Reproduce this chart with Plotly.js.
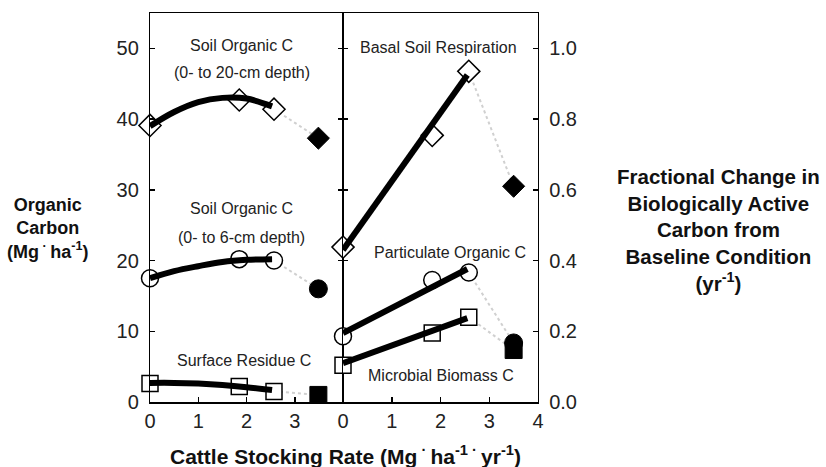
<!DOCTYPE html>
<html><head><meta charset="utf-8">
<script src="https://cdn.plot.ly/plotly-3.0.1.min.js"></script>
<style>body{margin:0;background:#fff}#chart{width:826px;height:467px}</style>
</head><body><div id="chart"></div>
<script>
// ---- data ----
// left panel: organic carbon, Mg ha-1
const leftX = [0, 1.85, 2.57];
const grazedX = [3.49];
const soc20 = [39.1, 42.7, 41.4];
const soc20Grazed = [37.3];
const soc6 = [17.5, 20.2, 20.0];
const soc6Grazed = [16.0];
const residue = [2.6, 2.2, 1.5];
const residueGrazed = [1.0];
// fitted curves, left panel
const leftFitX = [0, 0.5, 1.0, 1.5, 2.0, 2.53];
const soc20Fit = [39.0, 41.0, 42.4, 43.0, 42.9, 41.8];
const soc6Fit = [17.5, 18.5, 19.2, 19.8, 20.1, 20.2];
const residueFit = [2.7, 2.7, 2.6, 2.4, 2.1, 1.7];

// right panel: fractional change, yr-1
const rightX = [0, 1.83, 2.58];
const rightGrazedX = [3.5];
const basal = [0.438, 0.754, 0.935];
const basalGrazed = [0.61];
const poc = [0.186, 0.345, 0.366];
const pocGrazed = [0.167];
const mbc = [0.104, 0.195, 0.240];
const mbcGrazed = [0.147];
// fitted lines, right panel
const rightFitX = [0, 2.55];
const basalFit = [0.43, 0.925];
const pocFit = [0.195, 0.376];
const mbcFit = [0.11, 0.237];

const leftTicks = [0, 1, 2, 3];
const rightTicks = [0, 1, 2, 3, 4];
const leftYTicks = [0, 10, 20, 30, 40, 50];
const rightYTicks = [0, 0.2, 0.4, 0.6, 0.8, 1.0];

// ---- traces ----
const FONT = 'Liberation Sans, Arial, sans-serif';
const traces = [];
function connector(xa, ya, xb, yb, xr, yr) {
  traces.push({x: [xa[xa.length-1], xb[0]], y: [ya[ya.length-1], yb[0]], xaxis: xr, yaxis: yr,
    mode: 'lines', line: {color: '#d0d0d0', width: 2, dash: 'dot'}, hoverinfo: 'skip'});
}
function openMarkers(x, y, sym, size, xr, yr) {
  traces.push({x: x, y: y, xaxis: xr, yaxis: yr, mode: 'markers', cliponaxis: false,
    marker: {symbol: sym, size: size, color: '#fff', line: {color: '#000', width: 1.5}}});
}
function fit(x, y, xr, yr, shape) {
  traces.push({x: x, y: y, xaxis: xr, yaxis: yr, mode: 'lines', cliponaxis: false,
    line: {color: '#000', width: 6, shape: shape, smoothing: 1}});
}
function filled(x, y, sym, size, xr, yr) {
  traces.push({x: x, y: y, xaxis: xr, yaxis: yr, mode: 'markers', cliponaxis: false,
    marker: {symbol: sym, size: size, color: '#000', line: {color: '#000', width: 1}}});
}

connector(leftX, soc20, grazedX, soc20Grazed, 'x', 'y');
connector(leftX, soc6, grazedX, soc6Grazed, 'x', 'y');
connector(leftX, residue, grazedX, residueGrazed, 'x', 'y');
connector(rightX, basal, rightGrazedX, basalGrazed, 'x2', 'y2');
connector(rightX, poc, rightGrazedX, pocGrazed, 'x2', 'y2');
connector(rightX, mbc, rightGrazedX, mbcGrazed, 'x2', 'y2');

openMarkers(leftX, soc20, 'diamond', 17, 'x', 'y');
openMarkers(leftX, soc6, 'circle', 17, 'x', 'y');
openMarkers(leftX, residue, 'square', 16, 'x', 'y');
openMarkers(rightX, basal, 'diamond', 17, 'x2', 'y2');
openMarkers(rightX, poc, 'circle', 17, 'x2', 'y2');
openMarkers(rightX, mbc, 'square', 16, 'x2', 'y2');

fit(leftFitX, soc20Fit, 'x', 'y', 'spline');
fit(leftFitX, soc6Fit, 'x', 'y', 'spline');
fit(leftFitX, residueFit, 'x', 'y', 'spline');
fit(rightFitX, basalFit, 'x2', 'y2', 'linear');
fit(rightFitX, pocFit, 'x2', 'y2', 'linear');
fit(rightFitX, mbcFit, 'x2', 'y2', 'linear');

filled(grazedX, soc20Grazed, 'diamond', 17, 'x', 'y');
filled(grazedX, soc6Grazed, 'circle', 18, 'x', 'y');
filled(grazedX, residueGrazed, 'square', 17, 'x', 'y');
filled(rightGrazedX, basalGrazed, 'diamond', 17, 'x2', 'y2');
filled(rightGrazedX, mbcGrazed, 'square', 17, 'x2', 'y2');
filled(rightGrazedX, pocGrazed, 'circle', 18, 'x2', 'y2');

// ---- layout ----
const axisBase = {showline: true, linecolor: '#000', linewidth: 1.5, ticks: 'inside', ticklen: 5,
  tickcolor: '#000', tickwidth: 1.5, showgrid: false, zeroline: false,
  tickfont: {family: FONT, size: 20, color: '#222'}, fixedrange: true};
const split = 193 / 388;
const lbl = (text, x, y, xr, yr) => ({text: text, x: x, y: y, xref: xr, yref: yr, showarrow: false,
  font: {family: FONT, size: 16, color: '#222'}, xanchor: 'center', yanchor: 'middle'});
const boldTitle = (text, x, y, size) => ({text: text, x: x, y: y, xref: 'paper', yref: 'paper',
  showarrow: false, xanchor: 'center', yanchor: 'middle', align: 'center',
  font: {family: FONT, size: size, color: '#111', weight: 'bold'}});

const layout = {
  width: 826, height: 467,
  margin: {l: 150, r: 288, t: 13, b: 65},
  paper_bgcolor: '#fff', plot_bgcolor: '#fff', showlegend: false,
  xaxis: Object.assign({}, axisBase, {domain: [0, split], range: [0, 4], tickvals: leftTicks,
    anchor: 'y', mirror: true}),
  yaxis: Object.assign({}, axisBase, {range: [0, 55], tickvals: leftYTicks, anchor: 'x',
    mirror: 'ticks', ticklabelstandoff: 6, linewidth: 1.2}),
  xaxis2: Object.assign({}, axisBase, {domain: [split, 1], range: [0, 4], tickvals: rightTicks,
    anchor: 'y2', mirror: true}),
  yaxis2: Object.assign({}, axisBase, {range: [0, 1.1], tickvals: rightYTicks, tickformat: '.1f',
    anchor: 'x2', side: 'right', mirror: 'ticks', ticklabelstandoff: 6, linewidth: 1.2}),
  annotations: [
    lbl('Soil Organic C', 1.9, 50.4, 'x', 'y'),
    lbl('(0- to 20-cm depth)', 1.9, 46.6, 'x', 'y'),
    lbl('Soil Organic C', 1.9, 27.4, 'x', 'y'),
    lbl('(0- to 6-cm depth)', 1.9, 23.3, 'x', 'y'),
    lbl('Surface Residue C', 1.95, 5.8, 'x', 'y'),
    lbl('Basal Soil Respiration', 1.96, 1.003, 'x2', 'y2'),
    lbl('Particulate Organic C', 2.19, 0.424, 'x2', 'y2'),
    lbl('Microbial Biomass C', 2.0, 0.076, 'x2', 'y2'),
    boldTitle('Cattle Stocking Rate (Mg<sup> · </sup>ha<sup>-1</sup><sup> · </sup>yr<sup>-1</sup>)', 0.503, -0.136, 21),
    boldTitle('Organic<br>Carbon<br>(Mg<sup> · </sup>ha<sup>-1</sup>)', -0.263, 0.445, 18),
    boldTitle('Fractional Change in<br>Biologically Active<br>Carbon from<br>Baseline Condition<br>(yr<sup>-1</sup>)', 1.464, 0.443, 20.5)
  ]
};

Plotly.newPlot('chart', traces, layout, {displayModeBar: false, staticPlot: true});
</script></body></html>
